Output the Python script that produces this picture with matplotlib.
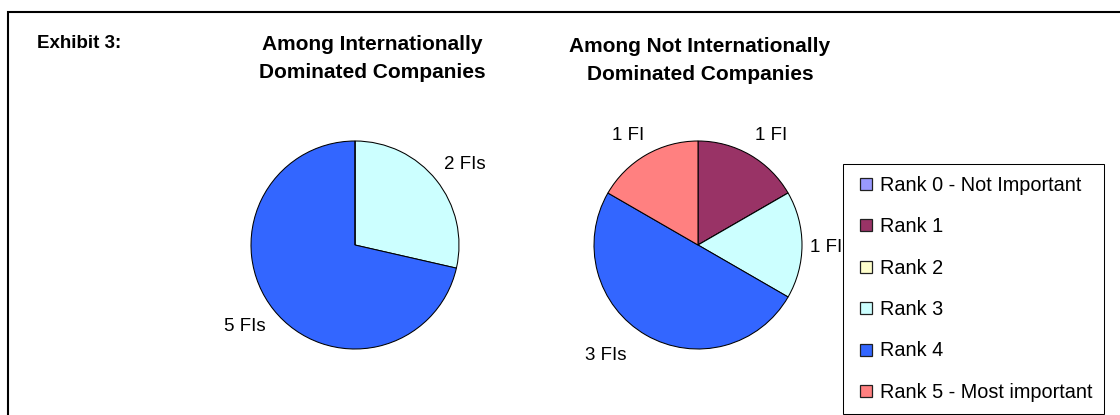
import numpy as np
import matplotlib.pyplot as plt
from matplotlib.lines import Line2D
from matplotlib.patches import Rectangle

plt.rcParams['font.family'] = ['Liberation Sans', 'DejaVu Sans']

ranks = ['Rank 0 - Not Important', 'Rank 1', 'Rank 2', 'Rank 3', 'Rank 4',
         'Rank 5 - Most important']
colors = ['#9999FF', '#993366', '#FFFFCC', '#CCFFFF', '#3366FF', '#FF8080']

intl_counts = [0, 0, 0, 2, 5, 0]
not_intl_counts = [0, 1, 0, 1, 3, 1]

intl_title = 'Among Internationally\nDominated Companies'
not_intl_title = 'Among Not Internationally\nDominated Companies'


def fi_label(n):
    return '1 FI' if n == 1 else '%d FIs' % n


W, H = 1120, 415
fig = plt.figure(figsize=(W / 100, H / 100), dpi=100)

# outer frame (runs off the right and bottom edge)
fig.patches.append(Rectangle((8 / W, -0.1), 1.2, 1 - 12 / H + 0.1,
                             transform=fig.transFigure, fill=False,
                             edgecolor='black', linewidth=1.5))

fs = 13.5


def draw_pie(cx, cy, r, counts, label_pos):
    ax = fig.add_axes([(cx - r) / W, (H - cy - r) / H, 2 * r / W, 2 * r / H])
    ax.pie(counts, colors=colors, startangle=90, counterclock=False,
           wedgeprops=dict(edgecolor='black', linewidth=0.75))
    ax.set_xlim(-1, 1)
    ax.set_ylim(-1, 1)
    ax.set_aspect('equal')
    k = 0
    for n in counts:
        if n == 0:
            continue
        x, y = label_pos[k]
        ax.text(x, y, fi_label(n), ha='center', va='center', fontsize=fs,
                clip_on=False)
        k += 1
    return ax


draw_pie(355, 245, 104, intl_counts, [(1.06, 0.77), (-1.06, -0.78)])
draw_pie(698, 245, 104, not_intl_counts,
         [(0.70, 1.05), (1.23, -0.02), (-0.89, -1.06), (-0.67, 1.05)])

fig.text(37 / W, 1 - 44 / H, 'Exhibit 3:', fontsize=13.5, fontweight='bold',
         ha='left', va='center')
fig.text(372 / W, 1 - 58.5 / H, intl_title, fontsize=15, fontweight='bold',
         ha='center', va='center', linespacing=1.62)
fig.text(700 / W, 1 - 60.5 / H, not_intl_title, fontsize=15, fontweight='bold',
         ha='center', va='center', linespacing=1.62)

handles = [Line2D([], [], linestyle='', marker='s', markersize=8,
                  markerfacecolor=c, markeredgecolor='#202020',
                  markeredgewidth=0.9) for c in colors]
leg = fig.legend(handles, ranks, loc='upper left', numpoints=1,
                 bbox_to_anchor=(843 / W, 1 - 164 / H), fontsize=14.3,
                 frameon=True, fancybox=False, framealpha=1, edgecolor='black',
                 handlelength=1.1, handletextpad=0.17,
                 labelspacing=1.13, borderpad=0.59, borderaxespad=0)
leg.get_frame().set_linewidth(0.75)

fig.savefig('out.png', dpi=100)
